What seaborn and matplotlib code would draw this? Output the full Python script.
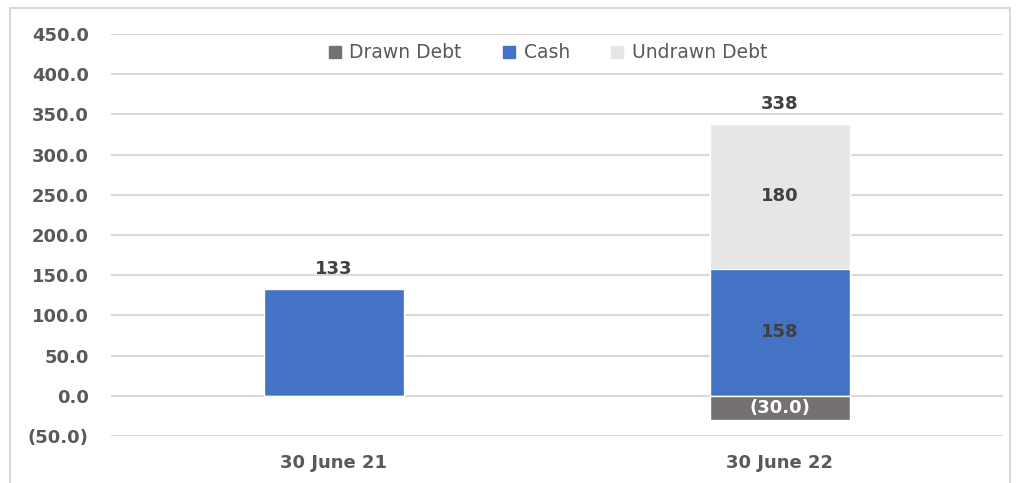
import numpy as np
import pandas as pd
import matplotlib.pyplot as plt
import seaborn as sns
from matplotlib.patches import Rectangle, Patch

categories = ["30 June 21", "30 June 22"]
drawn_debt = [0.0, -30.0]
cash = [133.0, 158.0]
undrawn_debt = [0.0, 180.0]
y_ticks = [-50, 0, 50, 100, 150, 200, 250, 300, 350, 400, 450]

c_drawn = "#767171"
c_cash = "#4472C4"
c_undrawn = "#E7E6E6"
txt = "#595959"
lbl = "#404040"

sns.set_style("white")
plt.rcParams["font.family"] = ["DejaVu Sans"]

df = pd.DataFrame({
    "Date": categories,
    "Drawn Debt": drawn_debt,
    "Cash": cash,
    "Undrawn Debt": undrawn_debt,
})
df["Top"] = df["Cash"] + df["Undrawn Debt"]

fig = plt.figure(figsize=(10.2, 4.83), dpi=100)
ax = fig.add_axes([0.1088, 0.0973, 0.8745, 0.8323])

# outer chart border
fig.patches.append(Rectangle((10 / 1020, -0.01), 1000 / 1020, 1 - 8 / 483 + 0.01,
                             transform=fig.transFigure, fill=False,
                             edgecolor="#D9D9D9", linewidth=1.5, zorder=0))

w = 140 / 446
sns.barplot(data=df, x="Date", y="Top", color=c_undrawn, width=w,
            saturation=1, ax=ax, zorder=3)
sns.barplot(data=df, x="Date", y="Cash", color=c_cash, width=w,
            saturation=1, ax=ax, zorder=3)
sns.barplot(data=df, x="Date", y="Drawn Debt", color=c_drawn, width=w,
            saturation=1, ax=ax, zorder=3)

ax.set_xlim(-0.5, 1.5)
ax.set_ylim(-50, 450)
ax.set_yticks(y_ticks)
ax.set_yticklabels([f"({abs(v):.1f})" if v < 0 else f"{v:.1f}" for v in y_ticks])
ax.yaxis.grid(True, color="#D9D9D9", linewidth=1.5, zorder=0)
ax.set_axisbelow(True)
for s in ax.spines.values():
    s.set_visible(False)
ax.tick_params(axis="both", length=0, labelsize=13, labelcolor=txt)
ax.tick_params(axis="y", pad=16)
ax.tick_params(axis="x", pad=13)
for t in ax.get_xticklabels() + ax.get_yticklabels():
    t.set_fontweight("bold")
ax.set_xlabel("")
ax.set_ylabel("")

# labels
for i, row in df.iterrows():
    ax.annotate(f"{row['Top']:.0f}", (i, row["Top"]), xytext=(0, 8),
                textcoords="offset points", ha="center", va="bottom",
                fontsize=13, fontweight="bold", color=lbl)
    if row["Undrawn Debt"] > 0:
        ax.text(i, row["Cash"] + row["Undrawn Debt"] / 2, f"{row['Undrawn Debt']:.0f}",
                ha="center", va="center", fontsize=13, fontweight="bold",
                color=lbl, zorder=5)
        ax.text(i, row["Cash"] / 2, f"{row['Cash']:.0f}", ha="center",
                va="center", fontsize=13, fontweight="bold", color=lbl, zorder=5)
    if row["Drawn Debt"] < 0:
        ax.text(i, row["Drawn Debt"] / 2, f"({abs(row['Drawn Debt']):.1f})",
                ha="center", va="center", fontsize=13, fontweight="bold",
                color="white", zorder=5)

handles = [Patch(color=c_drawn), Patch(color=c_cash), Patch(color=c_undrawn)]
leg = ax.legend(handles, ["Drawn Debt", "Cash", "Undrawn Debt"], loc="center",
                bbox_to_anchor=(0.49, 0.953), ncol=3, frameon=False,
                handlelength=0.65, handleheight=0.65, handletextpad=0.45,
                columnspacing=2.2, fontsize=13.5)
for t in leg.get_texts():
    t.set_color(txt)

fig.savefig("out.png", dpi=100)
